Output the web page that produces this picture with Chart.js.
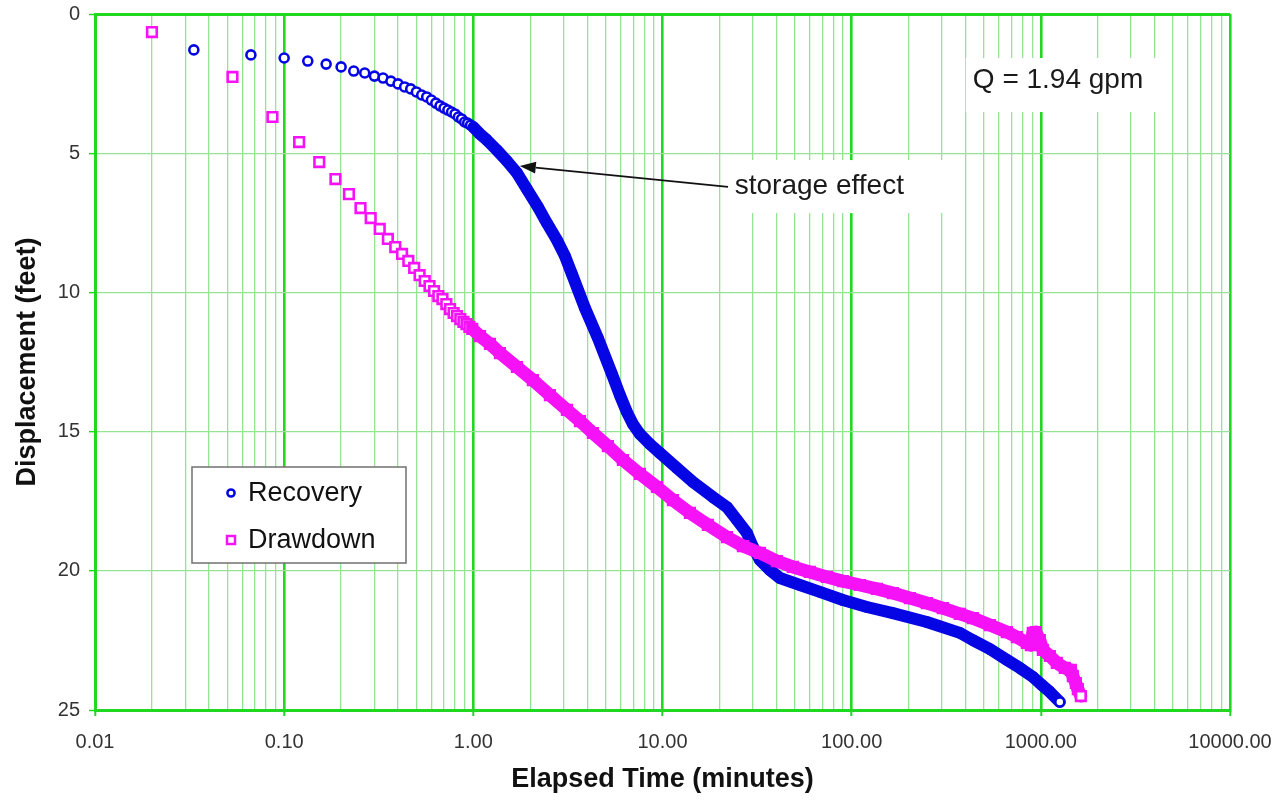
<!DOCTYPE html>
<html>
<head>
<meta charset="utf-8">
<title>Recovery and Drawdown</title>
<script src="https://cdn.jsdelivr.net/npm/chart.js@4.4.1/dist/chart.umd.min.js"></script>
<style>
  html, body { margin: 0; padding: 0; background: #ffffff; }
  #wrap { width: 1280px; height: 800px; position: relative; }
</style>
</head>
<body>
<div id="wrap"><canvas id="chart" width="1280" height="800"></canvas></div>
<script>
// Recovery readings: elapsed time (minutes) and displacement (feet)
const recoveryTime = [
  0.0333, 0.0667, 0.1, 0.1333, 0.1667, 0.2, 0.2333, 0.2667, 0.3, 0.3333,
  0.3667, 0.4, 0.4333, 0.4667, 0.5, 0.5333, 0.5667, 0.6, 0.6333, 0.6667,
  0.7, 0.7333, 0.7667, 0.8, 0.8333, 0.8667, 0.9, 0.9333, 0.9667, 1.0,
  1.084, 1.18, 1.332, 1.505, 1.70, 1.919, 2.194, 2.449, 2.766, 3.048,
  3.32, 3.889, 4.557, 5.403, 5.954, 6.484, 6.976, 7.597, 8.58, 9.69,
  11.92, 14.48, 18.47, 21.9, 24.73, 27.93, 30.05, 32.72, 36.96, 41.74,
  53.24, 67.89, 89.84, 120.3, 165.1, 249.7, 373.2, 437.0, 537.6, 661.2,
  774.5, 907.1, 1012, 1116, 1260
];
const recoveryDisp = [
  1.29, 1.47, 1.58, 1.69, 1.80, 1.90, 2.05, 2.12, 2.23, 2.30,
  2.41, 2.51, 2.62, 2.69, 2.80, 2.91, 2.98, 3.09, 3.20, 3.30,
  3.38, 3.45, 3.52, 3.59, 3.70, 3.77, 3.88, 3.92, 3.99, 4.06,
  4.31, 4.53, 4.89, 5.28, 5.71, 6.29, 6.93, 7.51, 8.12, 8.69,
  9.34, 10.56, 11.64, 12.93, 13.69, 14.30, 14.73, 15.09, 15.45, 15.77,
  16.31, 16.81, 17.35, 17.71, 18.17, 18.64, 19.14, 19.61, 19.97, 20.26,
  20.51, 20.76, 21.05, 21.30, 21.52, 21.84, 22.23, 22.49, 22.81, 23.20,
  23.49, 23.81, 24.10, 24.35, 24.71
];

// Drawdown readings: elapsed time (minutes) and displacement (feet)
const drawdownTime = [
  0.02, 0.0533, 0.0867, 0.12, 0.1533, 0.1867, 0.22, 0.2533, 0.2867, 0.32,
  0.3533, 0.3867, 0.42, 0.4533, 0.4867, 0.52, 0.5533, 0.5867, 0.62, 0.6533,
  0.6867, 0.72, 0.7533, 0.7867, 0.82, 0.8533, 0.8867, 0.92, 0.9533, 0.9867,
  1.084, 1.224, 1.382, 1.70, 2.065, 2.540, 3.124, 3.66, 4.287, 5.144,
  6.176, 7.597, 9.342, 11.35, 13.96, 17.38, 21.9, 26.61, 32.72, 40.24,
  48.89, 60.12, 73.93, 89.84, 110.5, 135.9, 165.1, 203.0, 249.7, 303.4,
  373.2, 437.0, 537.6, 661.2, 746.7, 843.4, 885.3, 907.1, 940.9, 987.9,
  1025, 1116, 1215, 1339, 1441, 1476, 1531, 1569, 1627
];
const drawdownDisp = [
  0.65, 2.26, 3.70, 4.60, 5.32, 5.93, 6.47, 6.97, 7.33, 7.72,
  8.08, 8.37, 8.62, 8.87, 9.12, 9.38, 9.59, 9.77, 9.95, 10.13,
  10.24, 10.42, 10.60, 10.74, 10.85, 10.96, 11.06, 11.14, 11.24, 11.31,
  11.57, 11.85, 12.18, 12.68, 13.15, 13.69, 14.22, 14.62, 15.05, 15.52,
  16.02, 16.52, 16.99, 17.46, 17.92, 18.35, 18.79, 19.11, 19.36, 19.65,
  19.86, 20.04, 20.22, 20.37, 20.51, 20.65, 20.80, 20.98, 21.16, 21.34,
  21.55, 21.70, 21.95, 22.20, 22.38, 22.59, 22.67, 22.23, 22.20, 22.49,
  22.84, 23.06, 23.31, 23.49, 23.56, 23.78, 24.03, 24.25, 24.50
];

// Axis tick values
const decadeTicks = [0.01, 0.1, 1, 10, 100, 1000, 10000];
const dispTicks = [0, 5, 10, 15, 20, 25];

// Text notes placed in data units (time, displacement)
const flowNote = { text: 'Q = 1.94 gpm', t: 437, s: 2.37 };
const storageNote = { text: 'storage effect', t: 24.1, s: 6.18, tailT: 22.2, tailS: 6.21, tipT: 1.76, tipS: 5.46 };

const FONT = '"Liberation Sans", Arial, Helvetica, sans-serif';
Chart.defaults.font.family = FONT;

const BLUE = '#0606e4';
const MAGENTA = '#f612f6';
const GRID_MAJOR = '#1fd81f';
const GRID_MINOR = '#94e494';

const isDecade = v => Math.abs(Math.log10(v) - Math.round(Math.log10(v))) < 1e-9;

// gridlines at 1..9 within each decade
const gridValues = [];
decadeTicks.forEach((d, i) => {
  gridValues.push(d);
  if (i < decadeTicks.length - 1) {
    for (let k = 2; k <= 9; k++) gridValues.push(d * k);
  }
});

const toPoints = (xs, ys) => xs.map((t, i) => ({ x: t, y: ys[i] }));

// keep the plot frame fixed: edge labels may overhang the frame
function fixedBox(scale, size) {
  if (scale.isHorizontal()) scale.height = size; else scale.width = size;
  scale.paddingTop = 0;
  scale.paddingBottom = 0;
  scale.paddingLeft = 0;
  scale.paddingRight = 0;
}

// Early readings are plotted as separate open markers; once readings become
// continuous the markers merge into a solid band.
function seriesStyle(color, bandFrom, lineWidth) {
  return {
    showLine: true,
    borderColor: color,
    borderWidth: lineWidth,
    borderJoinStyle: 'round',
    borderCapStyle: 'round',
    tension: 0,
    segment: {
      borderColor: ctx => (ctx.p0.parsed.x >= bandFrom ? color : 'rgba(0,0,0,0)')
    },
    pointBorderColor: color,
    pointBorderWidth: 2.6,
    pointBackgroundColor: ctx => {
      if (!ctx.parsed) return '#ffffff';
      const last = ctx.dataset.data.length - 1;
      return ctx.parsed.x >= bandFrom && ctx.dataIndex < last ? color : '#ffffff';
    },
    pointHoverRadius: 0
  };
}

const notesPlugin = {
  id: 'notes',
  beforeDatasetsDraw(chart) {
    const ctx = chart.ctx;
    const xs = chart.scales.x, ys = chart.scales.y;
    ctx.save();
    ctx.font = '28px ' + FONT;
    ctx.textBaseline = 'middle';

    // flow rate note
    let tx = xs.getPixelForValue(flowNote.t), ty = ys.getPixelForValue(flowNote.s);
    let w = ctx.measureText(flowNote.text).width;
    ctx.fillStyle = '#ffffff';
    ctx.fillRect(tx - 7, ty - 22, w + 24, 54);
    ctx.fillStyle = '#1a1a1a';
    ctx.fillText(flowNote.text, tx, ty);

    // storage note
    tx = xs.getPixelForValue(storageNote.t); ty = ys.getPixelForValue(storageNote.s);
    w = ctx.measureText(storageNote.text).width;
    ctx.fillStyle = '#ffffff';
    ctx.fillRect(tx - 9, ty - 26, w + 66, 53);
    ctx.fillStyle = '#1a1a1a';
    ctx.fillText(storageNote.text, tx, ty);
    ctx.restore();
  },
  afterDatasetsDraw(chart) {
    const ctx = chart.ctx;
    const xs = chart.scales.x, ys = chart.scales.y;
    const area = chart.chartArea;
    ctx.save();

    // arrow to the storage-affected section of the recovery curve
    const x0 = xs.getPixelForValue(storageNote.tailT), y0 = ys.getPixelForValue(storageNote.tailS);
    const x1 = xs.getPixelForValue(storageNote.tipT), y1 = ys.getPixelForValue(storageNote.tipS);
    const ang = Math.atan2(y1 - y0, x1 - x0);
    const headLen = 16, headHalf = 6;
    const bx = x1 - headLen * Math.cos(ang), by = y1 - headLen * Math.sin(ang);
    ctx.strokeStyle = '#111111';
    ctx.lineWidth = 1.6;
    ctx.beginPath();
    ctx.moveTo(x0, y0);
    ctx.lineTo(bx, by);
    ctx.stroke();
    ctx.fillStyle = '#111111';
    ctx.beginPath();
    ctx.moveTo(x1, y1);
    ctx.lineTo(bx + headHalf * Math.sin(ang), by - headHalf * Math.cos(ang));
    ctx.lineTo(bx - headHalf * Math.sin(ang), by + headHalf * Math.cos(ang));
    ctx.closePath();
    ctx.fill();

    // legend box
    const lx = area.left + 97, ly = area.top + 453, lw = 214, lh = 96;
    ctx.fillStyle = '#ffffff';
    ctx.fillRect(lx, ly, lw, lh);
    ctx.strokeStyle = '#707070';
    ctx.lineWidth = 1.5;
    ctx.strokeRect(lx, ly, lw, lh);
    ctx.font = '27px ' + FONT;
    ctx.textBaseline = 'middle';
    const order = [1, 0];
    order.forEach((di, row) => {
      const ds = chart.data.datasets[di];
      const cy = ly + 26 + row * 47;
      const cx = lx + 39;
      ctx.strokeStyle = ds.pointBorderColor;
      ctx.lineWidth = 2.5;
      ctx.fillStyle = '#ffffff';
      if (ds.pointStyle === 'rect') {
        ctx.beginPath();
        ctx.rect(cx - 4, cy - 4, 8, 8);
        ctx.fill();
        ctx.stroke();
      } else {
        ctx.beginPath();
        ctx.arc(cx, cy, 3.6, 0, Math.PI * 2);
        ctx.fill();
        ctx.stroke();
      }
      ctx.fillStyle = '#111111';
      ctx.fillText(ds.label, lx + 56, cy + 1);
    });
    ctx.restore();
  }
};

new Chart(document.getElementById('chart'), {
  type: 'line',
  data: {
    datasets: [
      Object.assign({
        label: 'Drawdown',
        data: toPoints(drawdownTime, drawdownDisp),
        pointStyle: 'rect',
        pointRadius: 6.8,
        order: 0
      }, seriesStyle(MAGENTA, 0.98, 13)),
      Object.assign({
        label: 'Recovery',
        data: toPoints(recoveryTime, recoveryDisp),
        pointStyle: 'circle',
        pointRadius: 4.5,
        order: 1
      }, seriesStyle(BLUE, 0.99, 12))
    ]
  },
  options: {
    responsive: false,
    animation: false,
    events: [],
    layout: { padding: { top: 14, right: 50, left: 0, bottom: 0 } },
    plugins: {
      legend: { display: false },
      tooltip: { enabled: false }
    },
    scales: {
      x: {
        type: 'logarithmic',
        min: 0.01,
        max: 10000,
        afterBuildTicks: scale => { scale.ticks = gridValues.map(v => ({ value: v })); },
        afterFit: scale => fixedBox(scale, 90),
        ticks: {
          autoSkip: false,
          maxRotation: 0,
          padding: 14,
          color: '#333333',
          font: { size: 20 },
          callback: v => (isDecade(v) ? Number(v).toFixed(2) : '')
        },
        grid: {
          color: ctx => (isDecade(ctx.tick.value) ? GRID_MAJOR : GRID_MINOR),
          lineWidth: ctx => (isDecade(ctx.tick.value) ? 2.6 : 1.3),
          tickLength: 6,
          tickColor: ctx => (isDecade(ctx.tick.value) ? GRID_MAJOR : 'rgba(0,0,0,0)'),
          tickWidth: 2
        },
        border: { color: GRID_MAJOR, width: 3 },
        title: {
          display: true,
          text: 'Elapsed Time (minutes)',
          color: '#111111',
          font: { size: 27, weight: 'bold' },
          padding: { top: 0, bottom: 4 }
        }
      },
      y: {
        type: 'linear',
        reverse: true,
        min: 0,
        max: 25,
        afterBuildTicks: scale => { scale.ticks = dispTicks.map(v => ({ value: v })); },
        afterFit: scale => fixedBox(scale, 95),
        ticks: {
          padding: 9,
          color: '#333333',
          font: { size: 20 }
        },
        grid: {
          color: ctx => (ctx.tick.value === 0 || ctx.tick.value === 25 ? GRID_MAJOR : GRID_MINOR),
          lineWidth: ctx => (ctx.tick.value === 0 || ctx.tick.value === 25 ? 3 : 1.3),
          tickLength: 6,
          tickColor: GRID_MAJOR,
          tickWidth: 1.5
        },
        border: { color: GRID_MAJOR, width: 3 },
        title: {
          display: true,
          text: 'Displacement (feet)',
          color: '#111111',
          font: { size: 27, weight: 'bold' },
          padding: { top: 11, bottom: 0 }
        }
      }
    }
  },
  plugins: [notesPlugin]
});
</script>
</body>
</html>
